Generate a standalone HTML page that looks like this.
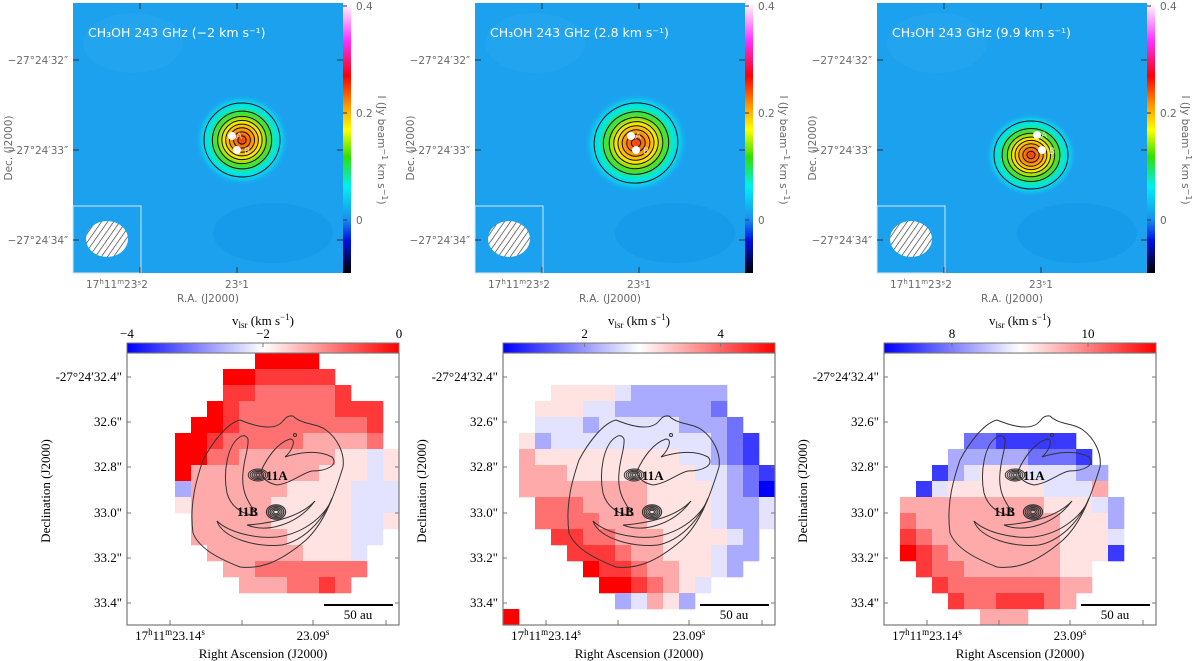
<!DOCTYPE html>
<html><head><meta charset="utf-8"><title>CH3OH 243 GHz maps</title>
<style>
html,body{margin:0;padding:0;background:#fff;}
svg{display:block;}
.ts{font-family:"DejaVu Sans","Liberation Sans",sans-serif;font-size:10.5px;fill:#6a6a6a;}
.bs{font-family:"Liberation Serif",serif;font-size:13px;fill:#000;}
</style></head>
<body>
<svg id="fig" width="1200" height="661" viewBox="0 0 1200 661" xmlns="http://www.w3.org/2000/svg">
<defs>
<linearGradient id="cbTop" x1="0" y1="0" x2="0" y2="1">
<stop offset="0" stop-color="#ffffff"/><stop offset="0.14" stop-color="#ff30ff"/>
<stop offset="0.27" stop-color="#ff0000"/><stop offset="0.37" stop-color="#ff8a00"/>
<stop offset="0.47" stop-color="#ffff00"/><stop offset="0.57" stop-color="#30e000"/>
<stop offset="0.68" stop-color="#00f0f0"/><stop offset="0.80" stop-color="#1a90f0"/>
<stop offset="0.88" stop-color="#0010e0"/><stop offset="1" stop-color="#000000"/>
</linearGradient>
<radialGradient id="blob" cx="0.5" cy="0.5" r="0.5">
<stop offset="0" stop-color="#f03a10"/><stop offset="0.2" stop-color="#ff8c00"/>
<stop offset="0.38" stop-color="#ffe600"/><stop offset="0.55" stop-color="#50e020"/>
<stop offset="0.72" stop-color="#00e8e0"/><stop offset="0.85" stop-color="#10c8f0"/>
<stop offset="1" stop-color="#1aa0ec" stop-opacity="0"/>
</radialGradient>
<linearGradient id="cbBot" x1="0" y1="0" x2="1" y2="0">
<stop offset="0" stop-color="#0000ff"/><stop offset="0.5" stop-color="#ffffff"/><stop offset="1" stop-color="#ff0000"/>
</linearGradient>
<pattern id="hatch" width="5" height="5" patternUnits="userSpaceOnUse" patternTransform="rotate(35)">
<rect width="5" height="5" fill="#fff"/><line x1="0" y1="0" x2="0" y2="5" stroke="#333" stroke-width="1.3"/>
</pattern>
</defs>
<g id="top"></g>
<g id="bottom"></g>
</svg>
<script>
// ---------- top row data ----------
const topTitles = ["CH\u2083OH 243 GHz (\u22122 km s\u207B\u00B9)", "CH\u2083OH 243 GHz (2.8 km s\u207B\u00B9)", "CH\u2083OH 243 GHz (9.9 km s\u207B\u00B9)"];
const topOffsets = [0, 402, 804];
const peakX = [242, 636, 1031];
const peakY = [140, 143, 155];
const peakRx = [38, 42, 37];
const peakRy = [37, 40, 34];
const peakRot = [0, -15, 0];
const srcAx = [232, 631, 1037], srcAy = [136, 136, 135];
const srcBx = [237, 636, 1042], srcBy = [150, 150, 150];
const contourFrac = [1, 0.78, 0.64, 0.53, 0.43, 0.33, 0.22, 0.11];
const cbTopTicks = ["0.4", "0.2", "0"];
const cbTopTickY = [6, 113, 220];

// ---------- bottom row data ----------
const vMin = [-4, 0.8, 7.0];
const vMax = [0, 4.8, 11.0];
const cbTicks1 = [-4, -2, 0];
const cbTicks2 = [2, 4];
const cbTicks3 = [8, 10];
const velRows1 = [
".................",".................","......88777778...",".....98777777888.","....998777777778.",
"...9987777766667.","...99776666665545","...96666666655545","...36666665555444","...56666655555444",
"....6666655555445","....666666555544.",".....6666665554..","......667777777..",".......6667787...",
".................","................."];
const velRows1top = ["........9999.....","......9988888...."];
const velRows2 = [
".................",".................","...55554333333....","..555443333332...","..4443444443332..",
".534444444444321.",".655555555544321.",".6665555555544321",".6666666655554320","..777666655554334",
"..777766655554334","...8877666555543.","....888766555433.",".....9887665543..","......9987654....",
".......34653.....","9................"];
const velRows3 = [
".................",".................",".................",".................",".................",
".....2211111.....","....333332221....","...13455544433...","..145555554446...",".66666666655543..",
".76666666665553...",".87666666665554...",".98766666665551...","..87766666655....","...8777777766.....",
"....87788876......","......666........"];
const decLabels = ["-27\u00B024\u203232.4\"", "32.6\"", "32.8\"", "33.0\"", "33.2\"", "33.4\""];
const raLabels = ["17h11m23.14s", "23.09s"];

const NS = "http://www.w3.org/2000/svg";
function mk(parent, tag, attrs, text){
  const e = document.createElementNS(NS, tag);
  for (const k in attrs) e.setAttribute(k, attrs[k]);
  if (text !== undefined) e.textContent = text;
  parent.appendChild(e);
  return e;
}
const topG = document.getElementById("top");
const botG = document.getElementById("bottom");

// ----- top panels -----
for (let p = 0; p < 3; p++) {
  const o = topOffsets[p];
  const x0 = 73 + o, y0 = 3, w = 270, h = 270;
  const g = mk(topG, "g", {});
  
  
  const bg = mk(g, "rect", {x: x0, y: y0, width: w, height: h, fill: "#1ba1ee"});
  
  
  // faint mottling
  mk(g, "ellipse", {cx: x0 + 60, cy: y0 + 40, rx: 50, ry: 30, fill: "#2aa8f0", opacity: 0.5});
  mk(g, "ellipse", {cx: x0 + 200, cy: y0 + 230, rx: 60, ry: 30, fill: "#1296e6", opacity: 0.5});
  const cx = peakX[p], cy = peakY[p];
  const blob = mk(g, "ellipse", {cx: cx, cy: cy, rx: peakRx[p] * 1.25, ry: peakRy[p] * 1.25, fill: "url(#blob)", transform: `rotate(${peakRot[p]} ${cx} ${cy})`});
  
  
  for (const f of contourFrac) {
    const c = mk(g, "ellipse", {cx: cx, cy: cy, rx: peakRx[p] * f, ry: peakRy[p] * f, fill: "none", stroke: "#111", "stroke-width": 1, transform: `rotate(${peakRot[p]} ${cx} ${cy})`});
    
    
  }
  const da = mk(g, "circle", {cx: srcAx[p], cy: srcAy[p], r: 4, fill: "#fff"});
  
  
  const db = mk(g, "circle", {cx: srcBx[p], cy: srcBy[p], r: 4, fill: "#fff"});
  
  
  mk(g, "text", {x: srcAx[p] + 4, y: srcAy[p] + 3, fill: "#fff", opacity: 0.7, "font-family": "DejaVu Sans,sans-serif", "font-size": 9}, "A");
  mk(g, "text", {x: srcBx[p] + 7, y: srcBy[p] + 4, fill: "#fff", opacity: 0.7, "font-family": "DejaVu Sans,sans-serif", "font-size": 9}, "B");
  // beam inset
  const inset = mk(g, "rect", {x: x0, y: 206, width: 68, height: 67, fill: "none", stroke: "#cfe6f5", "stroke-width": 1});
  
  
  const beam = mk(g, "ellipse", {cx: x0 + 34, cy: 239, rx: 21, ry: 18, fill: "url(#hatch)"});
  
  
  const ttl = mk(g, "text", {x: x0 + 15, y: 37, fill: "#fff", "font-family": "DejaVu Sans,Liberation Sans,sans-serif", "font-size": 12.5}, topTitles[p]);
  
  
  // ticks
  for (const ty of [60, 150, 240]) {
    mk(g, "line", {x1: x0, y1: ty, x2: x0 + 6, y2: ty, stroke: "#333"});
    mk(g, "line", {x1: x0 + w - 6, y1: ty, x2: x0 + w, y2: ty, stroke: "#333"});
  }
  for (const tx of [140, 237]) {
    mk(g, "line", {x1: tx + o, y1: 273, x2: tx + o, y2: 267, stroke: "#333"});
    mk(g, "line", {x1: tx + o, y1: 3, x2: tx + o, y2: 9, stroke: "#333"});
  }
  const decT = ["\u221227\u00B024\u203232\u2033", "\u221227\u00B024\u203233\u2033", "\u221227\u00B024\u203234\u2033"];
  [60, 150, 240].forEach((ty, i) => {
    const t = mk(g, "text", {x: x0 - 5, y: ty + 4, "text-anchor": "end", class: "ts"}, decT[i]);
    
    
  });
  const r1 = mk(g, "text", {x: 117 + o, y: 288, "text-anchor": "middle", class: "ts"});
  r1.innerHTML = '17<tspan dy="-4" font-size="7">h</tspan><tspan dy="4">11</tspan><tspan dy="-4" font-size="7">m</tspan><tspan dy="4">23\u02E22</tspan>';
  
  
  const r2 = mk(g, "text", {x: 237 + o, y: 288, "text-anchor": "middle", class: "ts"}, "23\u02E21");
  
  
  const xl = mk(g, "text", {x: 208 + o, y: 302, "text-anchor": "middle", class: "ts", "font-size": 11.5}, "R.A. (J2000)");
  
  
  const yl = mk(g, "text", {x: 0, y: 0, "text-anchor": "middle", class: "ts", "font-size": 11.5, transform: `translate(${12 + o},148) rotate(-90)`}, "Dec. (J2000)");
  
  
  // colorbar
  const cb = mk(g, "rect", {x: x0 + w, y: y0, width: 8, height: h, fill: "url(#cbTop)"});
  
  
  cbTopTicks.forEach((lab, i) => {
    mk(g, "line", {x1: x0 + w, y1: cbTopTickY[i], x2: x0 + w + 4, y2: cbTopTickY[i], stroke: "#333"});
    const t = mk(g, "text", {x: x0 + w + 13, y: cbTopTickY[i] + 4, class: "ts"}, lab);
    
    
  });
  const cl = mk(g, "text", {x: 0, y: 0, "text-anchor": "middle", class: "ts", "font-size": 11.5, transform: `translate(${x0 + w + 35},150) rotate(90)`});
  cl.innerHTML = 'I (Jy beam<tspan dy="-4" font-size="8">\u22121</tspan><tspan dy="4"> km s</tspan><tspan dy="-4" font-size="8">\u22121</tspan><tspan dy="4">)</tspan>';
  
  
}

// ----- bottom panels -----
const botOffsets = [127, 503, 884];
const allRows = [velRows1top.concat(velRows1.slice(2)), velRows2, velRows3];
const allTicks = [cbTicks1, cbTicks2, cbTicks3];
const PW = 272, PY = 353, CELL = 16;
function colorOf(t){
  let r, gg, b;
  if (t < 0.5) { const s = t / 0.5; r = Math.round(255 * s); gg = r; b = 255; }
  else { const s = (t - 0.5) / 0.5; r = 255; gg = Math.round(255 * (1 - s)); b = gg; }
  return `rgb(${r},${gg},${b})`;
}
const outerPath = "M76,107 C70,125 62,150 66,180 C72,195 90,205 113,214 C130,216 150,212 179,187 C195,172 205,150 216,114 C218,100 210,85 199,77 C190,70 175,72 166,63 C160,62 158,66 156,68 C148,78 130,74 113,67 C100,70 85,90 76,107 Z";
const innerPaths = [
 "M113,84 C100,92 96,120 100,140 C104,155 118,163 130,162 C122,150 114,140 116,120 C117,105 122,95 121,86 C119,82 116,82 113,84 Z",
 "M134,118 C140,105 150,90 163,86 C170,86 165,98 158,104 C170,100 190,96 205,104 C212,112 200,118 185,118 C175,120 165,130 150,132 C140,130 135,125 134,118 Z",
 "M90,168 C95,185 130,195 155,192 C175,188 195,170 205,145 C200,160 180,180 150,184 C125,186 100,178 90,168 Z",
 "M120,172 C140,180 170,172 188,148 C175,162 150,170 120,172 Z"
];
const decTickY = [24, 69, 114, 160, 205, 250];
const raTickX = [43, 186];
for (let p = 0; p < 3; p++) {
  const ox = botOffsets[p];
  const g = mk(botG, "g", {});
  
  
  const rows = allRows[p];
  const lo = vMin[p], hi = vMax[p];
  rows.forEach((row, r) => {
    for (let c = 0; c < 17 && c < row.length; c++) {
      const ch = row[c];
      if (ch === ".") continue;
      const v = lo + (+ch) / 9 * (hi - lo);
      const t = (v - lo) / (hi - lo);
      const cell = mk(g, "rect", {x: ox + c * CELL, y: PY + r * CELL, width: CELL + 0.3, height: CELL + 0.3, fill: colorOf(t)});
      
      
    }
  });
  // contours
  const cg = mk(g, "g", {transform: `translate(${ox},${PY})`, fill: "none", stroke: "#333", "stroke-width": 1});
  
  
  mk(cg, "path", {d: outerPath});
  innerPaths.forEach(d => mk(cg, "path", {d: d}));
  mk(cg, "circle", {cx: 168, cy: 82, r: 1.5});
  for (const rr of [1.5, 3, 4.5, 6, 7.5]) mk(cg, "ellipse", {cx: 131, cy: 122, rx: rr * 1.3, ry: rr * 0.8});
  for (const rr of [2, 3.5, 5, 6.5, 8]) mk(cg, "ellipse", {cx: 149, cy: 159, rx: rr * 1.2, ry: rr * 0.9, "stroke-width": 1.2});
  const la = mk(g, "text", {x: ox + 139, y: PY + 127, class: "bs", "font-weight": "bold", "font-size": 12}, "11A");
  
  
  const lb = mk(g, "text", {x: ox + 110, y: PY + 163, class: "bs", "font-weight": "bold", "font-size": 12}, "11B");
  
  
  // frame
  const fr = mk(g, "rect", {x: ox, y: PY, width: PW, height: 272, fill: "none", stroke: "#777", "stroke-width": 1.2});
  
  
  decTickY.forEach((ty, i) => {
    mk(g, "line", {x1: ox, y1: PY + ty, x2: ox + 4, y2: PY + ty, stroke: "#777"});
    mk(g, "line", {x1: ox + PW - 4, y1: PY + ty, x2: ox + PW, y2: PY + ty, stroke: "#777"});
    const t = mk(g, "text", {x: ox - 5, y: PY + ty + 4, "text-anchor": "end", class: "bs"}, decLabels[i]);
    
    
  });
  [43, 115, 186, 259].forEach(tx => {
    mk(g, "line", {x1: ox + tx, y1: PY + 272, x2: ox + tx, y2: PY + 267, stroke: "#777"});
  });
  const ra1 = mk(g, "text", {x: ox + 43, y: PY + 287, "text-anchor": "middle", class: "bs"});
  ra1.innerHTML = '17<tspan dy="-5" font-size="9">h</tspan><tspan dy="5">11</tspan><tspan dy="-5" font-size="9">m</tspan><tspan dy="5">23.14</tspan><tspan dy="-5" font-size="9">s</tspan>';
  
  
  const ra2 = mk(g, "text", {x: ox + 186, y: PY + 287, "text-anchor": "middle", class: "bs"});
  ra2.innerHTML = '23.09<tspan dy="-5" font-size="9">s</tspan>';
  
  
  const xt = mk(g, "text", {x: ox + 136, y: PY + 305, "text-anchor": "middle", class: "bs"}, "Right Ascension (J2000)");
  
  
  const yt = mk(g, "text", {x: 0, y: 0, "text-anchor": "middle", class: "bs", transform: `translate(${ox - 77},${PY + 138}) rotate(-90)`}, "Declination (J2000)");
  
  
  // scale bar
  const sb = mk(g, "line", {x1: ox + 197, y1: PY + 252, x2: ox + 266, y2: PY + 252, stroke: "#000", "stroke-width": 2});
  
  
  const sbt = mk(g, "text", {x: ox + 231, y: PY + 266, "text-anchor": "middle", class: "bs"}, "50 au");
  
  
  // colorbar
  const cb = mk(g, "rect", {x: ox, y: 343, width: PW, height: 10, fill: "url(#cbBot)", stroke: "#777", "stroke-width": 1});
  
  
  allTicks[p].forEach(v => {
    const tx = ox + (v - lo) / (hi - lo) * PW;
    mk(g, "line", {x1: tx, y1: 343, x2: tx, y2: 347, stroke: "#777"});
    const t = mk(g, "text", {x: tx, y: 338, "text-anchor": "middle", class: "bs"}, v < 0 ? "\u2212" + Math.abs(v) : String(v));
    
    
  });
  const ct = mk(g, "text", {x: ox + 136, y: 325, "text-anchor": "middle", class: "bs"});
  ct.innerHTML = 'v<tspan dy="3" font-size="9">lsr</tspan><tspan dy="-3"> (km s</tspan><tspan dy="-5" font-size="9">\u22121</tspan><tspan dy="5">)</tspan>';
  
  
}
</script>
</body></html>
